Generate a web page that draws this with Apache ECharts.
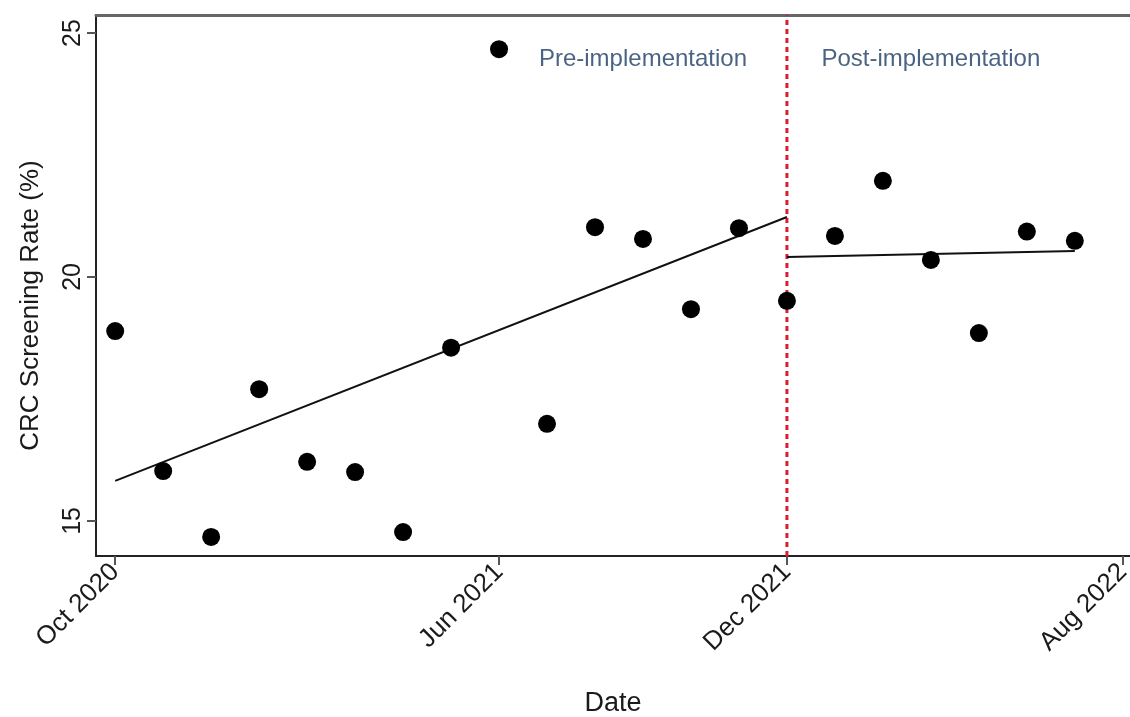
<!DOCTYPE html>
<html>
<head>
<meta charset="utf-8">
<script src="https://cdn.jsdelivr.net/npm/echarts@6/dist/echarts.min.js"></script>
<style>
    html, body {margin: 0; padding: 0; background: #fff;}
    #crcChart {width: 1130px; height: 717px;}
</style>
</head>
<body>
<div id="crcChart"></div>
<script>
    // months since Oct 2020 (0 = Oct 2020)
    var monthIndex = [0, 1, 2, 3, 4, 5, 6, 7, 8, 9, 10, 11, 12, 13, 14, 15, 16, 17, 18, 19, 20];
    // monthly CRC screening rate (%)
    var screeningRate = [18.89, 16.02, 14.67, 17.70, 16.21, 16.00, 14.77, 18.55, 24.67, 16.99,
        21.02, 20.78, 19.34, 21.00, 19.51, 20.84, 21.97, 20.35, 18.85, 20.93, 20.74];
    // fitted segments (start / end)
    var preFit = [[0, 15.82], [14, 21.23]];
    var postFit = [[14, 20.41], [20, 20.53]];
    var implementationMonth = 14;
    // axis ticks
    var xTickValues = [0, 8, 14, 21];
    var xTickLabels = ['Oct 2020', 'Jun 2021', 'Dec 2021', 'Aug 2022'];
    var yTickValues = [15, 20, 25];
    var annotations = [[11, 24.47, 'Pre-implementation'], [17, 24.47, 'Post-implementation']];

    var yMin = 14.28, yMax = 25.37;
    var font = 'Liberation Sans, Arial, sans-serif';

    var chart = echarts.init(document.getElementById('crcChart'));
    chart.setOption({
        animation: false,
        backgroundColor: '#fff',
        grid: {left: 96, right: 0, top: 15, bottom: 161, outerBoundsMode: 'none', containLabel: false},
        xAxis: [
            {
                type: 'value',
                min: -0.4,
                max: 21.15,
                name: 'Date',
                nameLocation: 'middle',
                nameGap: 134,
                nameTextStyle: {fontFamily: font, fontSize: 27, color: '#1a1a1a'},
                axisLine: {onZero: false, lineStyle: {color: '#222', width: 2}},
                axisTick: {show: true, customValues: xTickValues, length: 9, lineStyle: {color: '#555', width: 2}},
                axisLabel: {
                    customValues: xTickValues,
                    rotate: 45,
                    margin: 12,
                    fontFamily: font,
                    fontSize: 26,
                    color: '#1a1a1a',
                    formatter: function (v) {
                        var i = xTickValues.indexOf(Math.round(v));
                        return i >= 0 ? xTickLabels[i] : '';
                    }
                },
                splitLine: {show: false}
            },
            {
                // top border of the plot
                type: 'value',
                position: 'top',
                min: -0.4,
                max: 21.15,
                axisLine: {onZero: false, lineStyle: {color: '#666', width: 3}},
                axisTick: {show: false},
                axisLabel: {show: false},
                splitLine: {show: false}
            }
        ],
        yAxis: {
            type: 'value',
            min: yMin,
            max: yMax,
            name: 'CRC Screening Rate (%)',
            nameLocation: 'middle',
            nameGap: 52,
            nameTextStyle: {fontFamily: font, fontSize: 26, color: '#1a1a1a', padding: [0, 40, 0, 0]},
            axisLine: {show: true, onZero: false, lineStyle: {color: '#222', width: 2}},
            axisTick: {show: true, customValues: yTickValues, length: 9, lineStyle: {color: '#555', width: 2}},
            axisLabel: {
                customValues: yTickValues,
                rotate: 90,
                margin: 10,
                fontFamily: font,
                fontSize: 25,
                color: '#1a1a1a'
            },
            splitLine: {show: false}
        },
        series: [
            {
                name: 'Implementation',
                type: 'line',
                data: [[implementationMonth, yMin], [implementationMonth, yMax]],
                symbol: 'none',
                lineStyle: {color: '#dd1a2e', width: 3, type: [5, 4]},
                z: 1
            },
            {
                name: 'Pre fit',
                type: 'line',
                data: preFit,
                symbol: 'none',
                lineStyle: {color: '#111', width: 2},
                z: 2
            },
            {
                name: 'Post fit',
                type: 'line',
                data: postFit,
                symbol: 'none',
                lineStyle: {color: '#111', width: 2},
                z: 2
            },
            {
                name: 'Rate',
                type: 'scatter',
                data: monthIndex.map(function (m, i) { return [m, screeningRate[i]]; }),
                symbol: 'circle',
                symbolSize: 18,
                itemStyle: {color: '#000', opacity: 1},
                z: 3
            },
            {
                name: 'Labels',
                type: 'scatter',
                data: annotations,
                symbolSize: 0,
                silent: true,
                label: {
                    show: true,
                    position: 'inside',
                    formatter: function (p) { return p.data[2]; },
                    fontFamily: font,
                    fontSize: 24,
                    color: '#1d3c63'
                }
            }
        ]
    });
</script>
</body>
</html>
